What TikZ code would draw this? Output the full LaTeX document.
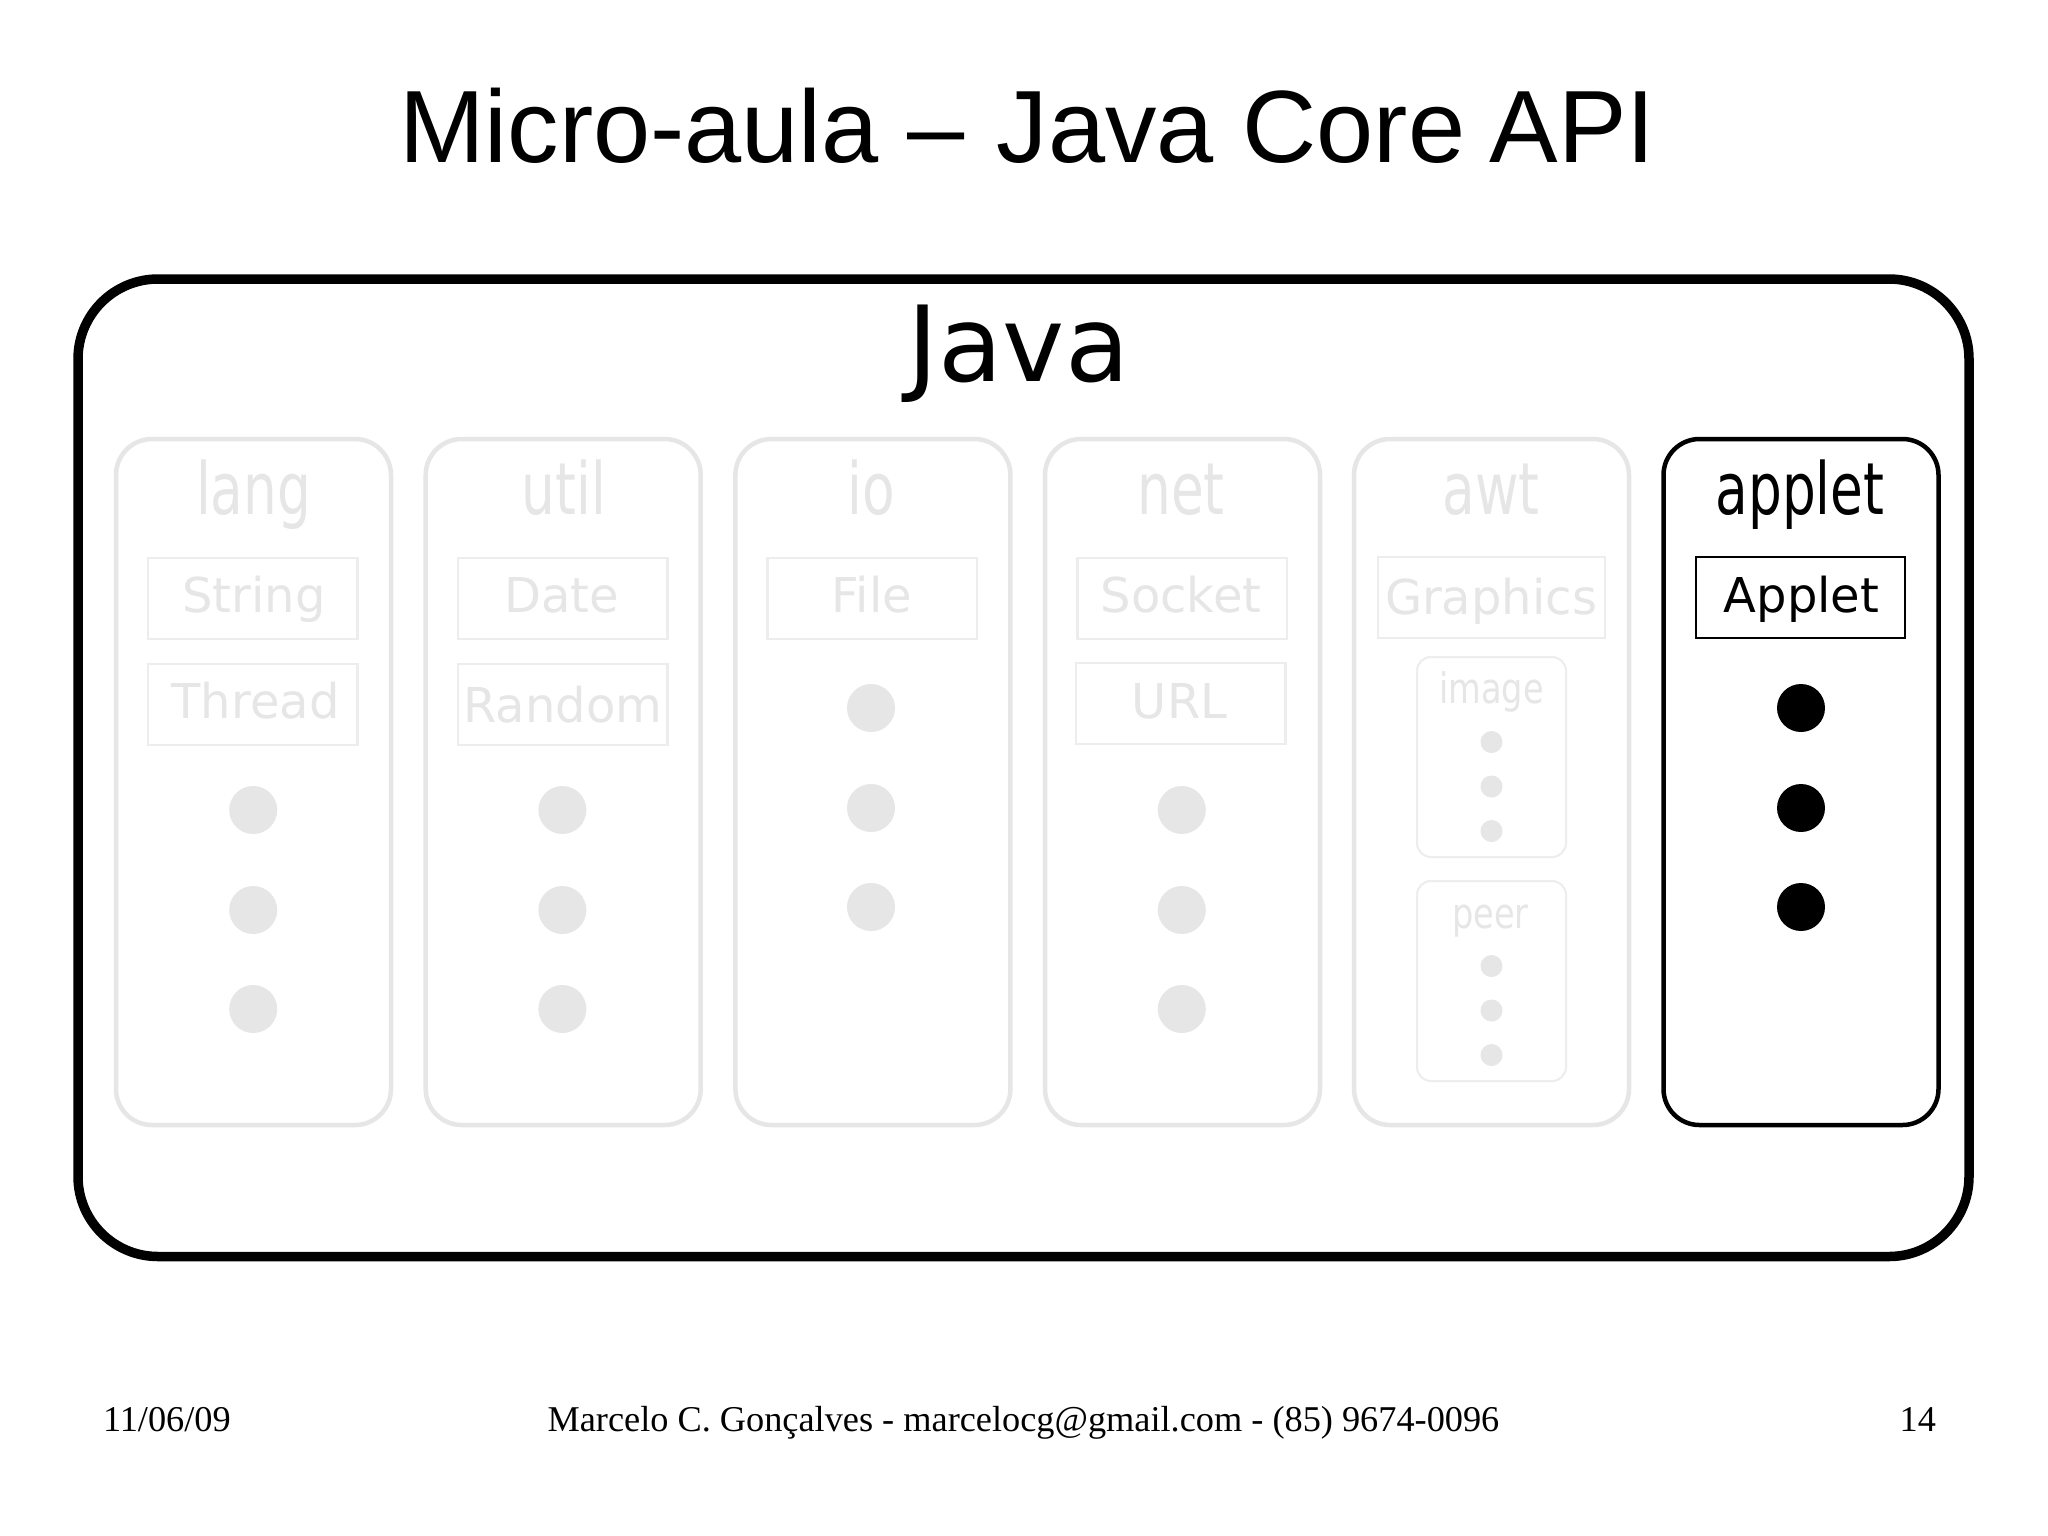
\documentclass[tikz,border=0pt]{standalone}
\usepackage{fontspec}
\setmainfont{DejaVu Sans}
\newfontfamily\titlefont{Liberation Sans}
\newfontfamily\footfont{Liberation Serif}
\definecolor{ghost}{HTML}{E6E6E6}
\definecolor{ghostline}{HTML}{EDEDED}
\newcommand{\fs}[1]{\fontsize{#1}{#1}\selectfont}
\newcommand{\cond}[2][0.74]{\scalebox{#1}[1]{#2}}
\tikzset{
  every node/.style={inner sep=0pt,outer sep=0pt},
  outerbox/.style={draw=black,line width=9.5pt,rounded corners=80pt,anchor=north west},
  pkg/.style={draw=#1,line width=4.5pt,rounded corners=36pt,minimum width=275pt,minimum height=686pt,anchor=north west},
  cls/.style={draw=#1,line width=2.2pt,minimum width=209.5pt,minimum height=81pt,anchor=north west},
  subpkg/.style={draw=ghostline,line width=2pt,rounded corners=14pt,minimum width=149pt,minimum height=200pt,anchor=north west},
  pkgname/.style={text=#1,anchor=base,font=\fs{72}},
  clsname/.style={text=#1,anchor=base,font=\fs{48}},
  subname/.style={text=ghost,anchor=base,font=\fs{42}},
  bigdot/.style={circle,fill=#1,minimum size=48pt},
  smalldot/.style={circle,fill=ghost,minimum size=22pt},
  titletext/.style={anchor=base,font=\titlefont\fs{102.75}},
  foot/.style={anchor=base,font=\footfont\fs{36.3}}
}
\begin{document}
\begin{tikzpicture}[x=1pt,y=-1pt]
\useasboundingbox (0,0) rectangle (2048,1535);
\fill[white] (0,0) rectangle (2048,1535);
\node[titletext] (title) at (1027.4,162.5) {Micro-aula – \kern4pt Java Core \kern-4pt API};
\node[outerbox,minimum width=1891pt,minimum height=977.5pt] (java) at (78,279) {};
\node[anchor=base,font=\fs{105}] (javaname) at (1018.5,381) {Java};
% lang
\node[pkg=ghost] (lang) at (116,439) {};
\node[pkgname=ghost] (langn) at (253.6,514) {\cond{lang}};
\node[cls=ghostline] (string) at (148,558) {};
\node[clsname=ghost] (stringn) at (254,612) {String};
\node[cls=ghostline] (thread) at (148,664) {};
\node[clsname=ghost] (threadn) at (255.5,718) {Thread};
\node[bigdot=ghost] (l1) at (253.2,810) {};
\node[bigdot=ghost] (l2) at (253.2,910) {};
\node[bigdot=ghost] (l3) at (253.2,1009) {};
% util
\node[pkg=ghost] (util) at (425.7,439) {};
\node[pkgname=ghost] (utiln) at (563.7,514) {\cond{util}};
\node[cls=ghostline] (date) at (458,558) {};
\node[clsname=ghost] (daten) at (561.5,612) {Date};
\node[cls=ghostline] (random) at (458,664) {};
\node[clsname=ghost] (randomn) at (563,722) {Random};
\node[bigdot=ghost] (u1) at (562.4,810) {};
\node[bigdot=ghost] (u2) at (562.4,910) {};
\node[bigdot=ghost] (u3) at (562.4,1009) {};
% io
\node[pkg=ghost] (io) at (735.4,439) {};
\node[pkgname=ghost] (ion) at (871,514) {\cond{io}};
\node[cls=ghostline] (file) at (767.5,558) {};
\node[clsname=ghost] (filen) at (872,612) {File};
\node[bigdot=ghost] (i1) at (871,708) {};
\node[bigdot=ghost] (i2) at (871,808) {};
\node[bigdot=ghost] (i3) at (871,907) {};
% net
\node[pkg=ghost] (net) at (1045,439) {};
\node[pkgname=ghost] (netn) at (1181,514) {\cond{net}};
\node[cls=ghostline] (socket) at (1077.5,558) {};
\node[clsname=ghost] (socketn) at (1181,612) {Socket};
\node[cls=ghostline] (url) at (1076,663) {};
\node[clsname=ghost] (urln) at (1179.5,718) {URL};
\node[bigdot=ghost] (n1) at (1181.8,810) {};
\node[bigdot=ghost] (n2) at (1181.8,910) {};
\node[bigdot=ghost] (n3) at (1181.8,1009) {};
% awt
\node[pkg=ghost] (awt) at (1354,439) {};
\node[pkgname=ghost] (awtn) at (1491,514) {\cond{awt}};
\node[cls=ghostline,minimum width=227pt] (graphics) at (1378,557) {};
\node[clsname=ghost] (graphicsn) at (1491,614) {Graphics};
\node[subpkg] (image) at (1417,657) {};
\node[subname] (imagen) at (1491.5,703) {\cond[0.8]{image}};
\node[smalldot] (a1) at (1491.5,742) {};
\node[smalldot] (a2) at (1491.5,786.5) {};
\node[smalldot] (a3) at (1491.5,831) {};
\node[subpkg] (peer) at (1417,881) {};
\node[subname] (peern) at (1490.5,928) {\cond[0.8]{peer}};
\node[smalldot] (p1) at (1491.5,966) {};
\node[smalldot] (p2) at (1491.5,1010.5) {};
\node[smalldot] (p3) at (1491.5,1055) {};
% applet
\node[pkg=black] (applet) at (1663.5,439) {};
\node[pkgname=black] (appletn) at (1800,514) {\cond{applet}};
\node[cls=black] (appletc) at (1695.6,557) {};
\node[clsname=black] (appletcn) at (1801.5,612) {Applet};
\node[bigdot=black] (b1) at (1801,708) {};
\node[bigdot=black] (b2) at (1801,808) {};
\node[bigdot=black] (b3) at (1801,907) {};
% footer
\node[foot,anchor=base west] (date0) at (103,1431) {11/06/09};
\node[foot] (author) at (1023.4,1431) {Marcelo C. Gonçalves - marcelocg@gmail.com - (85) 9674-0096};
\node[foot,anchor=base east] (pg) at (1936,1431) {14};
\end{tikzpicture}
\end{document}
